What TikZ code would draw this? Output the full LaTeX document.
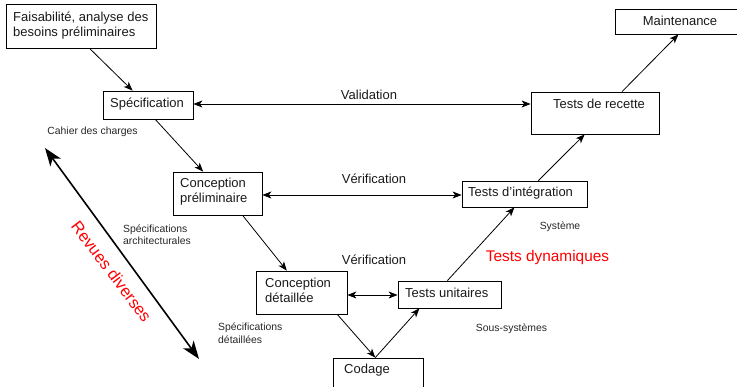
\documentclass[tikz,border=0pt]{standalone}
\usepackage{fontspec}
\setmainfont{Liberation Sans}
\usetikzlibrary{arrows.meta,calc}
\newcommand\mainf{\fontsize{13}{15}\selectfont}
\newcommand\smallf{\fontsize{10.4}{12.5}\selectfont}
\tikzset{
  box/.style={draw, line width=0.8pt, inner sep=0pt},
  boxtxt/.style={inner sep=0pt, font=\mainf, text=black!90, align=left},
  note/.style={inner sep=0pt, font=\smallf, text=black!85, align=left},
  conn/.style={line width=0.8pt, -{Stealth[length=9pt,width=7pt,inset=2.5pt]}},
  dconn/.style={line width=0.8pt, {Stealth[length=9pt,width=7pt,inset=2.5pt]}-{Stealth[length=9pt,width=7pt,inset=2.5pt]}},
  bigarrow/.style={line width=1.6pt, {Stealth[length=18pt,width=13pt,inset=5pt]}-{Stealth[length=18pt,width=13pt,inset=5pt]}},
  redtxt/.style={inner sep=0pt, text=red}
}
\begin{document}
\begin{tikzpicture}[x=1pt,y=-1pt]
\useasboundingbox (0,0) rectangle (737,386);
\clip (0,0) rectangle (737,386);
% boxes
\node[box, minimum width=150pt, minimum height=44pt] (fais) at (81,26.5) {};
\node[box, minimum width=90pt, minimum height=28pt] (spec) at (148,105) {};
\node[box, minimum width=89pt, minimum height=43pt] (concp) at (217.5,193.5) {};
\node[box, minimum width=91pt, minimum height=43pt] (concd) at (301.5,292.5) {};
\node[box, minimum width=90pt, minimum height=40pt] (codage) at (378,378) {};
\node[box, minimum width=103pt, minimum height=27pt] (tu) at (449.5,294.5) {};
\node[box, minimum width=125pt, minimum height=26pt] (ti) at (524.5,194) {};
\node[box, minimum width=128pt, minimum height=42pt] (tr) at (595,113) {};
\node[box, minimum width=122pt, minimum height=25pt] (maint) at (676,21.5) {};
% box texts
\node[boxtxt, anchor=west] (faist) at (13,25.5) {Faisabilité, analyse des\\besoins préliminaires};
\node[boxtxt] (spect) at (147,104) {Spécification};
\node[boxtxt, anchor=west] (concpt) at (180,191.5) {Conception\\préliminaire};
\node[boxtxt, anchor=west] (concdt) at (265,290.5) {Conception\\détaillée};
\node[boxtxt, anchor=west] (codaget) at (344,370.5) {Codage};
\node[boxtxt, anchor=west] (tut) at (405,293) {Tests unitaires};
\node[boxtxt, anchor=west] (tit) at (468,193) {Tests d'intégration};
\node[boxtxt] (trt) at (599,104) {Tests de recette};
\node[boxtxt] (maintt) at (680,21) {Maintenance};
% connectors down
\draw[conn] ($(fais.south west)!0.56!(fais.south east)$) -- ($(spec.north west)!0.33!(spec.north east)$);
\draw[conn] ($(spec.south west)!0.58!(spec.south east)$) -- ($(concp.north west)!0.34!(concp.north east)$);
\draw[conn] ($(concp.south west)!0.78!(concp.south east)$) -- ($(concd.north west)!0.34!(concd.north east)$);
\draw[conn] ($(concd.south west)!0.89!(concd.south east)$) -- ($(codage.north west)!0.47!(codage.north east)$);
% connectors up
\draw[conn] ($(codage.north west)!0.47!(codage.north east)$) -- ($(tu.south west)!0.21!(tu.south east)$);
\draw[conn] ($(tu.north west)!0.48!(tu.north east)$) -- ($(ti.south west)!0.42!(ti.south east)$);
\draw[conn] ($(ti.north west)!0.61!(ti.north east)$) -- ($(tr.south west)!0.42!(tr.south east)$);
\draw[conn] ($(tr.north west)!0.71!(tr.north east)$) -- ($(maint.south west)!0.52!(maint.south east)$);
% horizontal
\draw[dconn] ([yshift=1pt]spec.east) -- ([yshift=1pt]spec.east -| tr.west);
\draw[dconn] ([yshift=-1.5pt]concp.east) -- ([yshift=-1.5pt]concp.east -| ti.west);
\draw[dconn] ([yshift=-2.5pt]concd.east) -- ([yshift=-2.5pt]concd.east -| tu.west);
\node[boxtxt] (valid) at (369,95) {Validation};
\node[boxtxt] (verif1) at (374,179) {Vérification};
\node[boxtxt] (verif2) at (374,260) {Vérification};
% notes
\node[note] (cahier) at (92.5,132) {Cahier des charges};
\node[note, anchor=west] (specarch) at (123,234.5) {Spécifications\\architecturales};
\node[note, anchor=west] (specdet) at (218,333) {Spécifications\\détaillées};
\node[note] (systeme) at (560,227) {Système};
\node[note] (soussys) at (511.5,329) {Sous-systèmes};
\node[redtxt, font=\fontsize{15.4}{18}\selectfont] (tdyn) at (547.5,257.5) {Tests dynamiques};
% revues diverses
\coordinate (rvA) at (45,148);
\coordinate (rvB) at (199,359);
\draw[bigarrow] (rvA) -- (rvB);
\node[redtxt, font=\fontsize{16.4}{19}\selectfont, rotate=-53] (revues) at (111.5,271.5) {Revues diverses};
\end{tikzpicture}
\end{document}
